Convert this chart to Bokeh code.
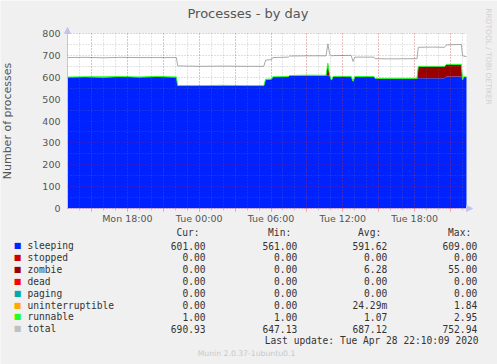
import numpy as np
from bokeh.plotting import figure
from bokeh.models import (ColumnDataSource, FixedTicker, Range1d, Label, Arrow, NormalHead,
                          LinearAxis, Grid)
from bokeh.transform import stack
from bokeh.embed import file_html
from bokeh.resources import INLINE

# ---------------- data (hours since Mon 00:00) ----------------
hours = [13.0, 14.5, 16.0, 17.5, 19.0, 20.5, 22.1, 22.2, 24.0, 26.0, 28.0, 29.4, 29.55,
         30.05, 30.15, 31.45, 31.55, 33.0, 34.6, 34.75, 34.9, 35.05, 35.2, 36.7, 36.85,
         37.0, 38.6, 38.7, 40.0, 42.2, 42.3, 43.5, 44.5, 44.65, 45.9, 46.0, 46.1, 46.33]
sleeping = [600, 601, 599, 602, 600, 601, 600, 561, 561, 562, 561, 561, 590,
            591, 601, 602, 607, 608, 608, 608, 607, 586, 603, 603, 581,
            602, 602, 594, 594, 594, 595, 595, 595, 603, 603, 586, 601, 601]
stopped = [0] * 38
zombie = [0, 0, 0, 0, 0, 0, 0, 0, 0, 0, 0, 0, 0,
          0, 0, 0, 0, 0, 0, 55, 0, 0, 0, 0, 0,
          0, 0, 0, 0, 0, 54, 54, 54, 55, 55, 0, 0, 0]
dead = [0] * 38
paging = [0] * 38
uninterruptible = [0, 0, 0, 0, 0, 1.84, 0, 0, 0, 0, 0, 0, 0,
                   0, 0, 0, 0, 0, 0, 0, 0, 0, 0, 0, 0,
                   0, 0, 0, 0, 0, 0, 0, 0, 0, 0, 0, 0, 0]
runnable = [1, 1, 2.95, 1, 1, 1, 1, 1, 1, 1, 1, 1, 1,
            1, 1, 1, 1, 1.5, 1, 1, 1, 1, 1, 1, 1,
            1, 1, 1, 1, 1, 1, 1, 1, 1, 1, 1, 1, 1]
total = [690, 691, 689, 691, 690, 690, 690, 652, 650, 651, 650, 650, 678,
         681, 690, 692, 697, 698, 698, 753, 705, 698, 699, 700, 672,
         692, 692, 685, 684, 685, 737, 738, 737, 748, 750, 699, 696, 695]

series_names = ["sleeping", "stopped", "zombie", "dead", "paging",
                "uninterruptible", "runnable", "total"]
series_colors = ["#0022ff", "#cc0000", "#990000", "#ff0000", "#00aaaa",
                 "#ffaa00", "#22ff22", "#c0c0c0"]
cur_vals = [601.00, 0.00, 0.00, 0.00, 0.00, 0.00, 1.00, 690.93]
min_vals = [561.00, 0.00, 0.00, 0.00, 0.00, 0.00, 1.00, 647.13]
avg_vals = [591.62, 0.00, 6.28, 0.00, 0.00, 0.02429, 1.07, 687.12]
max_vals = [609.00, 0.00, 55.00, 0.00, 0.00, 1.84, 2.95, 752.94]

x_tick_hours = [18, 24, 30, 36, 42]
x_tick_labels = ["Mon 18:00", "Tue 00:00", "Tue 06:00", "Tue 12:00", "Tue 18:00"]
y_ticks = [0, 100, 200, 300, 400, 500, 600, 700, 800]
x_start, x_end = 13.0, 46.33
y_top = 800

title_text = "Processes - by day"
y_label = "Number of processes"
side_text = "RRDTOOL / TOBI OETIKER"
last_update = "Last update: Tue Apr 28 22:10:09 2020"
footer = "Munin 2.0.37-1ubuntu0.1"

# ---------------- layout (pixels) ----------------
W, H = 497, 364
PL, PR, PT, PB = 67, 466, 33, 208          # plot-area box inside the canvas
BG = "#f0f0f0"
TXT = "#555555"
AXC = "#c0c4f0"
SANS = "DejaVu Sans"
MONO = "DejaVu Sans Mono"

pxh = (PR - PL) / (x_end - x_start)
pyu = (PB - PT) / y_top
x_range = Range1d(x_start - PL / pxh, x_end + (W - PR) / pxh)
y_range = Range1d(-(H - PB) / pyu, y_top + PT / pyu)

p = figure(width=W, height=H, x_range=x_range, y_range=y_range,
           output_backend="svg", toolbar_location=None, min_border=0,
           x_axis_location=None, y_axis_location=None,
           background_fill_color=BG, border_fill_color=BG, outline_line_color=None)
p.grid.visible = False

# white plot area
p.quad(left=[x_start], right=[x_end], bottom=[0], top=[y_top],
       fill_color="white", line_color=None)

src = ColumnDataSource(dict(hours=hours, sleeping=sleeping, stopped=stopped,
                            zombie=zombie, dead=dead, paging=paging,
                            uninterruptible=uninterruptible, runnable=runnable,
                            total=total))
stackers = series_names[:-1]
p.varea_stack(stackers=stackers, x="hours", color=series_colors[:-1], source=src)
p.line(x="hours", y=stack(*stackers), line_color="#22ff22", line_width=1, source=src)
p.line(x="hours", y="total", line_color="#aaaaaa", line_width=1, source=src)

# tickers
major_x = [float(t) for t in np.arange(15, x_end, 3)]
minor_x = [float(t) for t in np.arange(14, x_end, 1)]
xticker = FixedTicker(ticks=major_x, minor_ticks=minor_x)
yticker = FixedTicker(ticks=y_ticks, minor_ticks=[float(t) for t in np.arange(50, y_top, 100)])

# grids, limited to the plot area
for dim, tk, cb in ((0, xticker, (0, y_top)), (1, yticker, (x_start, x_end))):
    g = Grid(dimension=dim, ticker=tk, cross_bounds=cb, level="guide",
             grid_line_color="#ff0000", grid_line_alpha=0.35, grid_line_dash="1 2",
             minor_grid_line_color="#808080", minor_grid_line_alpha=0.4,
             minor_grid_line_dash="1 2")
    p.add_layout(g)

# axes drawn at the plot-area edges
overrides = {t: "" for t in major_x}
for t, lab in zip(x_tick_hours, x_tick_labels):
    overrides[float(t)] = lab
xaxis = LinearAxis(ticker=xticker, fixed_location=0, bounds=(x_start, x_end),
                   major_label_overrides=overrides)
yaxis = LinearAxis(ticker=yticker, fixed_location=x_start, bounds=(0, y_top),
                   axis_label=y_label)
for ax in (xaxis, yaxis):
    ax.axis_line_color = AXC
    ax.major_label_text_font = SANS
    ax.major_label_text_font_size = "9.5px"
    ax.major_label_text_color = TXT
xaxis.major_tick_out = 3
xaxis.major_tick_in = 0
xaxis.major_tick_line_color = "#ff8080"
xaxis.minor_tick_out = 2
xaxis.minor_tick_in = 0
xaxis.minor_tick_line_color = "#c8c8c8"
xaxis.major_label_standoff = 1
yaxis.major_tick_out = 0
yaxis.major_tick_in = 0
yaxis.minor_tick_out = 0
yaxis.minor_tick_in = 0
yaxis.major_label_standoff = 7
yaxis.axis_label_text_font = SANS
yaxis.axis_label_text_font_size = "11px"
yaxis.axis_label_text_font_style = "normal"
yaxis.axis_label_text_color = TXT
yaxis.axis_label_standoff = 25
p.add_layout(xaxis, "below")
p.add_layout(yaxis, "left")

# axis arrows
p.add_layout(Arrow(end=NormalHead(size=6, fill_color=AXC, line_color=AXC),
                   x_start=x_start, y_start=y_top, x_end=x_start, y_end=y_top + 6 / pyu,
                   line_color=AXC, line_width=1))
p.add_layout(Arrow(end=NormalHead(size=6, fill_color=AXC, line_color=AXC),
                   x_start=x_end, y_start=0, x_end=x_end + 6 / pxh, y_end=0,
                   line_color=AXC, line_width=1))


def label(x, y, text, **kw):
    """Text at canvas pixel (x, y), y measured from the top."""
    opts = dict(x_units="screen", y_units="screen", text_baseline="middle")
    opts.update(kw)
    p.add_layout(Label(x=x, y=H - y, text=text, **opts))


label(247.5, 12.5, title_text, text_font=SANS, text_font_size="13px",
      text_color=TXT, text_align="center")
label(487.5, 56, side_text, text_font=SANS, text_font_size="7.5px",
      text_color="#d0d0d0", text_align="center", angle=-np.pi / 2)

# ---------------- legend table ----------------
def fmt(v):
    if 0 < abs(v) < 1:
        return "%.2fm" % (v * 1000)
    return "%.2f" % v


row0, dy, head_y = 245.0, 11.9, 232.0
mono = dict(text_font=MONO, text_font_size="9.6px", text_color="#333333")
col_right = [205, 296.7, 386.7, 476.7]
heads = ["Cur:", "Min:", "Avg:", "Max:"]
for xr, h in zip(col_right, heads):
    label(xr - 6, head_y, h, text_align="right", **mono)
for i, (name, colr) in enumerate(zip(series_names, series_colors)):
    y = row0 + dy * i
    label(17, y, "\u25a0", text_font=SANS, text_font_size="8px", text_color=colr,
          text_align="center")
    label(27, y, name, text_align="left", **mono)
    for xr, vals in zip(col_right, [cur_vals, min_vals, avg_vals, max_vals]):
        label(xr, y, fmt(vals[i]), text_align="right", **mono)
label(478, row0 + dy * 8, last_update, text_align="right", **mono)
label(246, 353, footer, text_font=SANS, text_font_size="7.7px",
      text_color="#c8c8c8", text_align="center")

open("out.html", "w").write(file_html(p, INLINE))
